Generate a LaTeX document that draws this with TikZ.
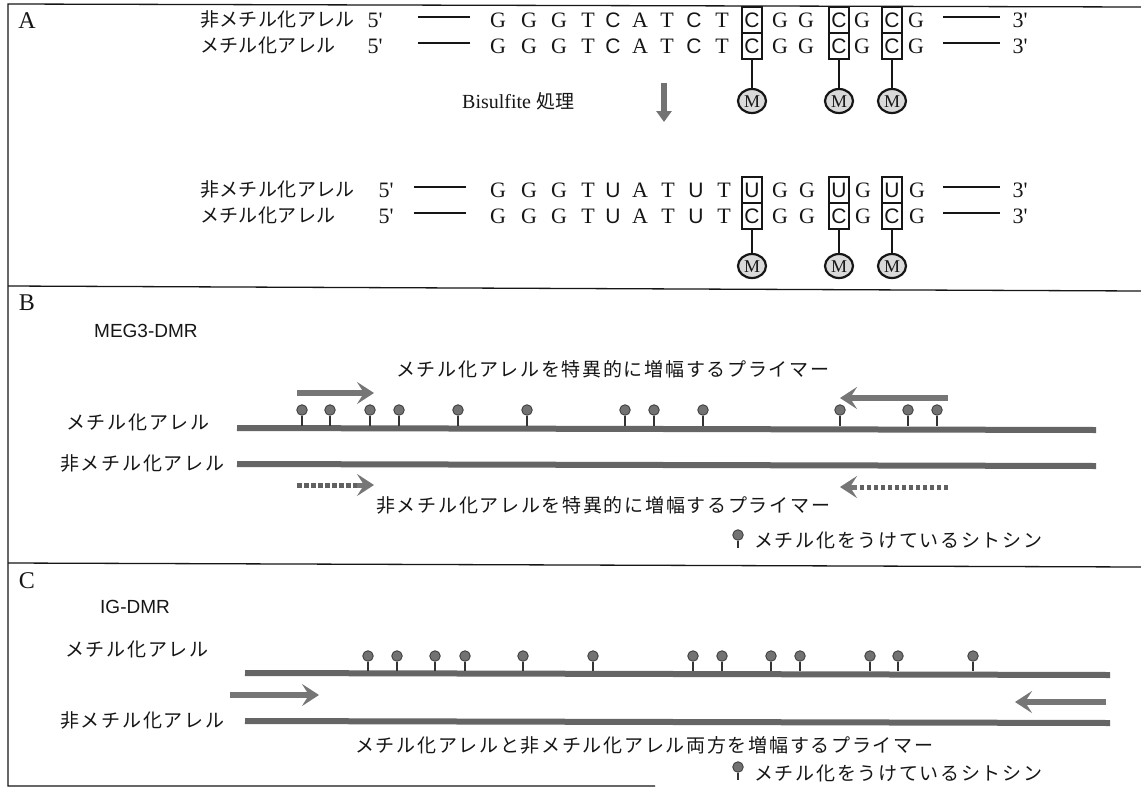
\documentclass[tikz,border=0pt]{standalone}
\usepackage{fontspec}
\setmainfont{Liberation Serif}
\setsansfont{Liberation Sans}
\newfontfamily\jp{Noto Sans CJK JP}[LetterSpace=9]
\newfontfamily\jpn{Noto Sans CJK JP}[LetterSpace=2]
\usetikzlibrary{arrows.meta,shapes.geometric}
\definecolor{strandc}{HTML}{656565}
\definecolor{arrowc}{HTML}{767676}
\definecolor{pinc}{HTML}{727272}
\definecolor{inkc}{HTML}{161616}
\newcommand{\pr}{\textquotesingle}
\tikzset{
  frame/.style={line width=1.3pt, draw=inkc},
  jptext/.style={font=\jp\fontsize{19}{21}\selectfont, inner sep=0pt, text=inkc, text height=15.2pt, text depth=1.9pt},
  jplabel/.style={font=\jpn\fontsize{19}{21}\selectfont, inner sep=0pt, text=inkc, text height=15.2pt, text depth=1.9pt, anchor=west},
  seqr/.style={font=\rmfamily\fontsize{22}{24}\selectfont, inner sep=0pt, text=inkc, text height=14.6pt, text depth=0pt},
  seqs/.style={font=\sffamily\fontsize{21}{24}\selectfont, inner sep=0pt, text=inkc, text height=15pt, text depth=0pt},
  panel/.style={font=\rmfamily\fontsize{24}{26}\selectfont, inner sep=0pt, text=inkc, text height=16pt, text depth=0pt},
  region/.style={font=\sffamily\fontsize{19}{21}\selectfont, inner sep=0pt, text=inkc, text height=13.6pt, text depth=0pt, anchor=west},
  cbox/.style={draw=inkc, line width=1.1pt, minimum width=20pt, minimum height=26pt, inner sep=0pt, text height=15pt, text depth=0pt, font=\sffamily\fontsize{21}{24}\selectfont, text=inkc},
  mcirc/.style={ellipse, draw=inkc, line width=2.2pt, fill=black!15, minimum width=28pt, minimum height=24pt, inner sep=0pt, text height=12.5pt, text depth=0pt, font=\rmfamily\fontsize{18}{18}\selectfont, text=inkc},
  stemline/.style={draw=inkc, line width=1.3pt},
  thin/.style={draw=inkc, line width=1.1pt},
  strand/.style={line width=6pt, draw=strandc},
  primer/.style={line width=5.5pt, draw=arrowc, -{Stealth[length=17pt,width=22pt,inset=7pt]}},
  primerhead/.style={line width=5pt, draw=arrowc, -{Stealth[length=17pt,width=22pt,inset=7pt]}},
  dshaft/.style={line width=5pt, draw=black!62, dash pattern=on 4.5pt off 2.5pt},
  pinhead/.style={circle, fill=pinc, draw=black!75, line width=0.9pt, minimum size=10.5pt, inner sep=0pt},
  pinstem/.style={draw=black!80, line width=1.2pt},
  downarrow/.style={line width=6pt, draw=black!55, -{Triangle[length=11pt,width=15pt]}},
}
\begin{document}
\begin{tikzpicture}[x=1pt,y=-1pt]
\useasboundingbox (0,0) rectangle (1141,801);
\fill[white] (0,0) rectangle (1141,801);

% frame
\coordinate (f1) at (8,4); \coordinate (f2) at (1141,7);
\coordinate (f3) at (8,786); \coordinate (f4) at (655,786);
\coordinate (d1a) at (8,286); \coordinate (d1b) at (1141,291);
\coordinate (d2a) at (8,563); \coordinate (d2b) at (1141,567);
\draw[frame] (f2) -- (f1) -- (f3) -- (f4);
\draw[frame] (d1a) -- (d1b);
\draw[frame] (d2a) -- (d2b);

% ===== Panel A =====
\node[panel] (pA) at (27,20) {A};

% row labels
\node[jplabel] (lA1) at (200,20) {非メチル化アレル};
\node[jplabel] (lA2) at (200,46) {メチル化アレル};
\node[jplabel] (lA3) at (200,190) {非メチル化アレル};
\node[jplabel] (lA4) at (200,216) {メチル化アレル};

% 5' ends and dashes
\foreach \y/\n/\fx/\da/\db in {20/1/375/418/470, 46/2/375/418/470, 190/3/386/414/466, 216/4/386/414/466}{
  \node[seqr] (five\n) at (\fx,\y) {5\pr};
  \coordinate (dl\n a) at (\da,\y-3); \coordinate (dl\n b) at (\db,\y-3);
  \draw[thin] (dl\n a) -- (dl\n b);
  \coordinate (dr\n a) at (943,\y-3); \coordinate (dr\n b) at (1000,\y-3);
  \draw[thin] (dr\n a) -- (dr\n b);
  \node[seqr] (three\n) at (1020,\y) {3\pr};
}

% sequences rows 1,2
\foreach \y/\n in {20/1, 46/2}{
  \foreach \x/\t/\s [count=\i] in {498/G/r, 529/G/r, 559/G/r, 588/T/r, 613/C/s, 640/A/r, 667/T/r, 694/C/s, 722/T/r, 780/G/r, 806/G/r, 862/G/r, 916/G/r}{
    \node[seq\s] (q\n-\i) at (\x,\y) {\t};
  }
}
% row 3
\foreach \x/\t/\s [count=\i] in {498/G/r, 529/G/r, 559/G/r, 588/T/r, 613/U/s, 640/A/r, 668/T/r, 696/U/s, 724/T/r, 780/G/r, 807/G/r, 863/G/r, 917/G/r}{
  \node[seq\s] (q3-\i) at (\x,190) {\t};
}
% row 4
\foreach \x/\t/\s [count=\i] in {498/G/r, 529/G/r, 559/G/r, 588/T/r, 613/U/s, 640/A/r, 668/T/r, 696/U/s, 724/T/r, 780/G/r, 807/G/r, 863/G/r, 917/G/r}{
  \node[seq\s] (q4-\i) at (\x,216) {\t};
}

% boxed C / U
\foreach \x/\k in {752/a, 839/b, 892/c}{
  \node[cbox] (bx1\k) at (\x,20) {C};
  \node[cbox] (bx2\k) at (\x,46) {C};
  \node[mcirc] (mA\k) at (\x,101) {M};
  \draw[stemline] (bx2\k.south) -- (mA\k.north);
  \node[cbox] (bx3\k) at (\x,190) {U};
  \node[cbox] (bx4\k) at (\x,216) {C};
  \node[mcirc] (mB\k) at (\x,266) {M};
  \draw[stemline] (bx4\k.south) -- (mB\k.north);
}

% bisulfite step
\node[anchor=west, inner sep=0pt, text=inkc] (bis) at (462,101) {\fontsize{20}{22}\selectfont Bisulfite {\jpn\fontsize{19}{21}\selectfont 処理}};
\coordinate (arA) at (664,83);
\coordinate (arB) at (664,122);
\draw[downarrow] (arA) -- (arB);

% ===== Panel B =====
\node[panel] (pB) at (27,302) {B};
\node[region] (meg) at (94,331) {MEG3-DMR};
\node[jptext, anchor=west] (pmB) at (396,370) {メチル化アレルを特異的に増幅するプライマー};

\node[jptext, anchor=west] (lB1) at (66,423) {メチル化アレル};
\node[jptext, anchor=west] (lB2) at (60,464) {非メチル化アレル};
\coordinate (sB1a) at (237,428); \coordinate (sB1b) at (1096,430);
\coordinate (sB2a) at (237,464); \coordinate (sB2b) at (1096,466);
\draw[strand] (sB1a) -- (sB1b);
\draw[strand] (sB2a) -- (sB2b);

\foreach \x [count=\i] in {302,330,370,399,458,527,625,654,703,840,908,937}{
  \node[pinhead] (bp\i) at (\x,410) {};
  \coordinate (bq\i) at (\x,426);
  \draw[pinstem] (bp\i) -- (bq\i);
}

% primers B (methyl specific, solid)
\coordinate (pB1a) at (297,393); \coordinate (pB1b) at (374,393);
\draw[primer] (pB1a) -- (pB1b);
\coordinate (pB2a) at (948,398); \coordinate (pB2b) at (840,398);
\draw[primer] (pB2a) -- (pB2b);

% primers B (unmethyl specific, dashed)
\coordinate (uB1a) at (297,485); \coordinate (uB1m) at (357,485); \coordinate (uB1b) at (374,485);
\draw[dshaft] (uB1a) -- (uB1m);
\draw[primerhead] (uB1m) -- (uB1b);
\coordinate (uB2a) at (948,487); \coordinate (uB2m) at (857,487); \coordinate (uB2b) at (840,487);
\draw[dshaft] (uB2a) -- (uB2m);
\draw[primerhead] (uB2m) -- (uB2b);

\node[jptext, anchor=west] (puB) at (376,506) {非メチル化アレルを特異的に増幅するプライマー};

% legend B
\node[pinhead] (lgB) at (738,535) {};
\coordinate (lgBs) at (738,548);
\draw[pinstem] (lgB) -- (lgBs);
\node[jptext, anchor=west] (lgBt) at (754,541) {メチル化をうけているシトシン};

% ===== Panel C =====
\node[panel] (pC) at (27,580) {C};
\node[region] (igd) at (100,607) {IG-DMR};

\node[jptext, anchor=west] (lC1) at (65,650) {メチル化アレル};
\node[jptext, anchor=west] (lC2) at (60,721) {非メチル化アレル};
\coordinate (sC1a) at (245,673); \coordinate (sC1b) at (1110,675);
\coordinate (sC2a) at (245,721); \coordinate (sC2b) at (1110,723);
\draw[strand] (sC1a) -- (sC1b);
\draw[strand] (sC2a) -- (sC2b);

\foreach \x [count=\i] in {368,397,435,465,523,593,693,722,771,800,870,898,973}{
  \node[pinhead] (cp\i) at (\x,656) {};
  \coordinate (cq\i) at (\x,671);
  \draw[pinstem] (cp\i) -- (cq\i);
}

\coordinate (pC1a) at (230,695); \coordinate (pC1b) at (319,695);
\draw[primer] (pC1a) -- (pC1b);
\coordinate (pC2a) at (1106,702); \coordinate (pC2b) at (1015,702);
\draw[primer] (pC2a) -- (pC2b);

\node[jptext, anchor=west] (pmC) at (355,746) {メチル化アレルと非メチル化アレル両方を増幅するプライマー};

% legend C
\node[pinhead] (lgC) at (738,767) {};
\coordinate (lgCs) at (738,780);
\draw[pinstem] (lgC) -- (lgCs);
\node[jptext, anchor=west] (lgCt) at (754,774) {メチル化をうけているシトシン};
\end{tikzpicture}
\end{document}
